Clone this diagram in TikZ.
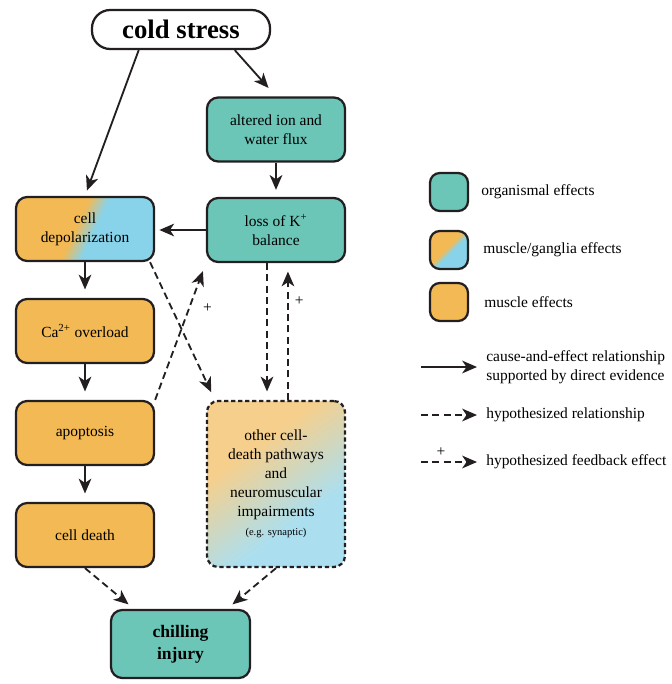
\documentclass[tikz,border=0pt]{standalone}
\usepackage{fontspec}
\setmainfont{Liberation Serif}
\usetikzlibrary{arrows.meta}

\definecolor{orgcol}{RGB}{108,198,184}
\definecolor{musccol}{RGB}{242,185,84}
\definecolor{gangcol}{RGB}{136,211,234}
\definecolor{musclite}{RGB}{246,207,140}
\definecolor{ganglite}{RGB}{171,223,240}
\definecolor{ink}{RGB}{35,31,32}

\pgfdeclareverticalshading{depolshade}{100bp}{color(0bp)=(gangcol); color(46bp)=(gangcol); color(54bp)=(musccol); color(100bp)=(musccol)}
\pgfdeclareverticalshading{othershade}{100bp}{color(0bp)=(ganglite); color(36bp)=(ganglite); color(64bp)=(musclite); color(100bp)=(musclite)}

\begin{document}
\begin{tikzpicture}[x=0.025cm,y=-0.025cm]

        \tikzset{effect/.style={draw=ink,line width=1.6pt,rounded corners=8pt,
                minimum width=3.45cm,minimum height=1.6cm,align=center,inner sep=2pt},
            organ/.style={effect,fill=orgcol},
            muscle/.style={effect,fill=musccol},
            ganglia/.style={effect,shade,shading=depolshade,shading angle=65},
            keybox/.style={draw=ink,line width=1.6pt,rounded corners=7pt,
                minimum width=0.95cm,minimum height=0.95cm,inner sep=0pt},
            keylabel/.style={anchor=west,inner sep=0pt,align=left},
            cause/.style={draw=ink,line width=1.3pt,-{Stealth[length=10.5pt,width=9pt,inset=3pt]}},
            guess/.style={cause,dash pattern=on 5pt off 3pt}}

        \useasboundingbox (0,0) rectangle (671,684);
        \fontsize{11}{13.5}\selectfont

        % Draw boxes
        \node (cold) at (181,29.5) [draw=ink,line width=1.6pt,rounded corners=13pt,
            minimum width=4.45cm,minimum height=0.975cm,
            font=\fontsize{19}{22}\selectfont\bfseries] {cold stress};
        \node (flux) at (276,129.5) [organ] {altered ion and\\water flux};
        \node (loss) at (276,230) [organ] {loss of K\textsuperscript{+}\\balance};
        \node (depol) at (85,229) [ganglia] {cell\\depolarization};
        \node (ca) at (85,331) [muscle] {Ca\textsuperscript{2+} overload};
        \node (apop) at (85,433) [muscle] {apoptosis};
        \node (death) at (85,535) [muscle] {cell death};
        \node (other) at (276,484) [effect,minimum height=4.15cm,dash pattern=on 3pt off 2pt,
            shade,shading=othershade,shading angle=36]
            {other cell-\\death pathways\\and\\neuromuscular\\impairments\\
            {\fontsize{7.5}{9}\selectfont (e.g. synaptic)}};
        \node (injury) at (180.5,644) [organ,minimum width=3.475cm,minimum height=1.7cm,
            font=\fontsize{12.5}{15.5}\selectfont\bfseries] {chilling\\injury};

        % Draw edges
        \draw[cause,shorten >=4pt] (cold.206) -- (depol.north);
        \draw[cause,shorten >=8pt] (cold.339) -- (flux.north);
        \draw[cause,shorten >=5pt] (flux) -- (loss);
        \draw[cause,shorten >=3pt] (loss.west) -- (loss.west -| depol.east);
        \draw[cause,shorten >=6pt] (depol) -- (ca);
        \draw[cause,shorten >=6pt] (ca) -- (apop);
        \draw[cause,shorten >=6pt] (apop) -- (death);
        \draw[guess,shorten >=6pt] (depol.333) -- (other.126);
        \draw[guess,shorten >=6pt] (apop.north east) -- (loss.south west)
            node (plus-1) [pos=0.67,xshift=13pt,inner sep=0pt] {+};
        \draw[guess,shorten >=6pt] ([xshift=-6.4pt]loss.south) -- ([xshift=-6.4pt]other.north);
        \draw[guess,shorten >=6pt] ([xshift=8.5pt]other.north) -- ([xshift=8.5pt]loss.south)
            node (plus-2) [pos=0.72,xshift=8pt,inner sep=0pt] {+};
        \draw[guess,shorten >=5pt] (death.south) -- (injury.143);
        \draw[guess,shorten >=5pt] (other.south) -- (injury.37);

        % Draw legend
        \node (key-1) at (449,192) [keybox,fill=orgcol] {};
        \node (key-2) at (449,250) [keybox,shade,shading=depolshade,shading angle=45] {};
        \node (key-3) at (449,302) [keybox,fill=musccol] {};
        \node (lab-1) at (481,192) [keylabel] {organismal effects};
        \node (lab-2) at (483,250) [keylabel] {muscle/ganglia effects};
        \node (lab-3) at (484,302) [keylabel] {muscle effects};
        \foreach \y/\s/\t in {367/cause/{cause-and-effect relationship\\supported by direct evidence},
                415/guess/hypothesized relationship,
                462/guess/hypothesized feedback effect} {
            \coordinate (from-\y) at (421,\y);
            \coordinate (to-\y) at (477,\y);
            \draw[\s] (from-\y) -- (to-\y);
            \node (lab-\y) at (486,\y) [keylabel] {\t};
        }
        \node (plus-3) at (441,452) [inner sep=0pt] {+};

    \end{tikzpicture}
\end{document}
